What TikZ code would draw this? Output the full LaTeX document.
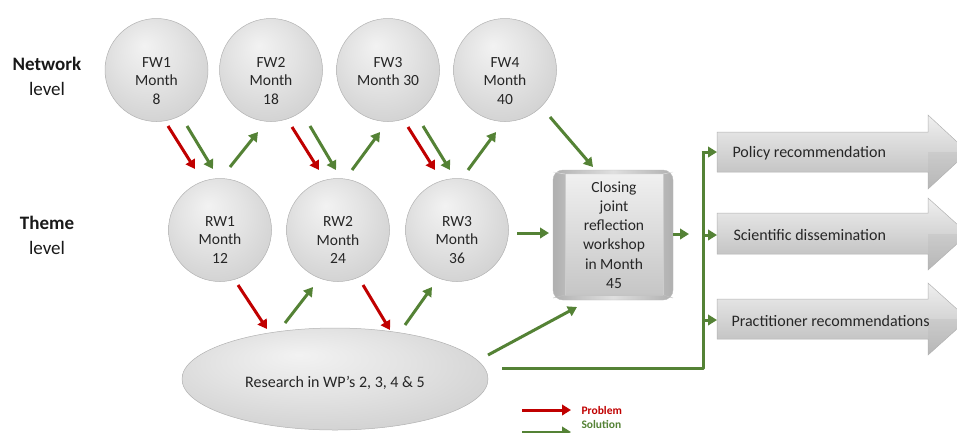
\documentclass[tikz,border=0pt]{standalone}
\usepackage{fontspec}
\setmainfont{Carlito}
\usetikzlibrary{arrows.meta,shapes.geometric}
\definecolor{gr}{RGB}{84,130,53}
\definecolor{rd}{RGB}{192,0,0}
\definecolor{txt}{RGB}{38,38,38}
\pgfdeclareradialshading{sphere}{\pgfpoint{-6bp}{12bp}}{color(0bp)=(gray!10);color(16bp)=(gray!22);color(34bp)=(gray!38);color(46bp)=(gray!55);color(50bp)=(gray!68)}
\tikzset{
  circ/.style={circle, draw=gray!60, line width=0.5pt, shading=sphere, minimum size=103pt, inner sep=0pt, align=center, text=txt, font=\fontsize{15.5}{18.5}\selectfont},
  garr/.style={draw=gr, line width=3pt, -{Triangle[length=9pt,width=10.5pt]}},
  rarr/.style={draw=rd, line width=3pt, -{Triangle[length=9pt,width=10.5pt]}},
  gline/.style={draw=gr, line width=3pt},
  lvl/.style={align=center, text=black!90, font=\fontsize{19}{25}\selectfont},
  outarrow/.style={top color=gray!12, bottom color=gray!55, draw=gray!60, line width=0.5pt},
  outtext/.style={anchor=west, text=txt, font=\fontsize{16}{19}\selectfont},
  legtext/.style={anchor=west, font=\bfseries\fontsize{11.5}{13}\selectfont}
}
\begin{document}
\begin{tikzpicture}[x=1pt,y=-1pt]
\useasboundingbox (0,0) rectangle (957,432);

% level labels
\node[lvl] (netlbl) at (47,76) {\textbf{Network}\\level};
\node[lvl] (themelbl) at (47,235) {\textbf{Theme}\\level};

% network level circles
\node[circ, text depth=0pt] (FW1) at (156.5,70) {};
\node[circ] (FW2) at (271,70) {};
\node[circ] (FW3) at (388,70) {};
\node[circ] (FW4) at (505,70) {};
\node[align=center, text=txt, font=\fontsize{15.5}{18.5}\selectfont] (FW1t) at (156.5,81) {FW1\\Month\\8};
\node[align=center, text=txt, font=\fontsize{15.5}{18.5}\selectfont] (FW2t) at (271,81) {FW2\\Month\\18};
\node[align=center, text=txt, font=\fontsize{15.5}{18.5}\selectfont] (FW3t) at (388,81) {FW3\\Month 30\\\phantom{0}};
\node[align=center, text=txt, font=\fontsize{15.5}{18.5}\selectfont] (FW4t) at (505,81) {FW4\\Month\\40};

% theme level circles
\node[circ] (RW1) at (220,230) {};
\node[circ] (RW2) at (338,230) {};
\node[circ] (RW3) at (457,230) {};
\node[align=center, text=txt, font=\fontsize{15.5}{18.5}\selectfont] (RW1t) at (220,240) {RW1\\Month\\12};
\node[align=center, text=txt, font=\fontsize{15.5}{18.5}\selectfont] (RW2t) at (338,240) {RW2\\Month\\24};
\node[align=center, text=txt, font=\fontsize{15.5}{18.5}\selectfont] (RW3t) at (457,240) {RW3\\Month\\36};

% research ellipse
\node[ellipse, draw=gray!60, line width=0.5pt, shading=sphere, minimum width=306pt, minimum height=102pt, inner sep=0pt] (res) at (335,379) {};
\node[text=txt, font=\fontsize{16}{19}\selectfont] (rest) at (335,383) {Research in WP's 2, 3, 4 \& 5};

% closing workshop box
\shade[left color=gray!62, right color=gray!62, middle color=gray!25, rounded corners=10pt, draw=gray!55, line width=0.4pt] (553,170) rectangle (673,300);
\shade[top color=gray!12, bottom color=gray!45] (565,174) rectangle (663,295);
\draw[white!75!gray, line width=0.5pt] (553,172) -- (565,174) -- (663,174) -- (673,172);
\draw[gray!50, line width=0.5pt] (553,298) -- (565,295) -- (663,295) -- (673,298);
\draw[gray!40, line width=0.4pt] (565,174) -- (565,295) (663,174) -- (663,295);
\node[align=center, text=txt, font=\fontsize{15.5}{19.2}\selectfont] (close) at (614,235) {Closing\\joint\\reflection\\workshop\\in Month\\45};

% output arrows
\shade[outarrow] (717,132) -- (928,132) -- (928,115) -- (968,152) -- (928,189) -- (928,172) -- (717,172) -- cycle;
\shade[outarrow] (717,213) -- (928,213) -- (928,198) -- (968,234) -- (928,270) -- (928,254) -- (717,254) -- cycle;
\shade[outarrow] (717,299) -- (928,299) -- (928,283) -- (968,319) -- (928,355) -- (928,339) -- (717,339) -- cycle;
\fill[gray!60, opacity=0.25] (928,152) -- (968,152) -- (928,189) -- cycle;
\fill[gray!60, opacity=0.25] (928,234) -- (968,234) -- (928,270) -- cycle;
\fill[gray!60, opacity=0.25] (928,319) -- (968,319) -- (928,355) -- cycle;
\node[outtext] (pol) at (729,153) {Policy recommendation};
\node[outtext] (sci) at (730,235) {Scientific dissemination};
\node[outtext] (pra) at (728,321) {Practitioner recommendations};

% connector end points
\coordinate (r1a) at (168,126); \coordinate (r1b) at (195,169);
\coordinate (g1a) at (187,126); \coordinate (g1b) at (213,169);
\coordinate (u1a) at (230,167); \coordinate (u1b) at (258,132);
\coordinate (r2a) at (292,127); \coordinate (r2b) at (319,170);
\coordinate (g2a) at (310,126); \coordinate (g2b) at (336,170);
\coordinate (u2a) at (352,170); \coordinate (u2b) at (380,132);
\coordinate (r3a) at (408,127); \coordinate (r3b) at (435,170);
\coordinate (g3a) at (423,126); \coordinate (g3b) at (450,170);
\coordinate (u3a) at (468,170); \coordinate (u3b) at (496,132);
\coordinate (f4a) at (550,117); \coordinate (f4b) at (593,167);
\coordinate (w3a) at (517,233); \coordinate (w3b) at (549,233);
\coordinate (e1a) at (238,285); \coordinate (e1b) at (267,329);
\coordinate (e2a) at (285,323); \coordinate (e2b) at (313,287);
\coordinate (e3a) at (363,285); \coordinate (e3b) at (390,330);
\coordinate (e4a) at (405,325); \coordinate (e4b) at (432,287);
\coordinate (ec1) at (488,355); \coordinate (ec2) at (577,307);
\coordinate (cl1) at (673,234); \coordinate (cl2) at (689,234);
\coordinate (hl) at (502,368); \coordinate (vb) at (703,368);
\coordinate (v1) at (703,152); \coordinate (v2) at (703,235); \coordinate (v3) at (703,320);

% network <-> theme arrows
\draw[rarr] (r1a) -- (r1b);
\draw[garr] (g1a) -- (g1b);
\draw[garr] (u1a) -- (u1b);
\draw[rarr] (r2a) -- (r2b);
\draw[garr] (g2a) -- (g2b);
\draw[garr] (u2a) -- (u2b);
\draw[rarr] (r3a) -- (r3b);
\draw[garr] (g3a) -- (g3b);
\draw[garr] (u3a) -- (u3b);
\draw[garr] (f4a) -- (f4b);
\draw[garr] (w3a) -- (w3b);

% theme <-> research arrows
\draw[rarr] (e1a) -- (e1b);
\draw[garr] (e2a) -- (e2b);
\draw[rarr] (e3a) -- (e3b);
\draw[garr] (e4a) -- (e4b);
\draw[garr] (ec1) -- (ec2);

% outputs
\draw[garr] (cl1) -- (cl2);
\draw[gline, line join=round] (hl) -- (vb) -- (v1);
\draw[garr] ([xshift=-1.5pt]v1) -- (717,152);
\draw[garr] (v2) -- (717,235);
\draw[garr] (v3) -- (717,320);

% legend
\coordinate (lp1) at (522,410); \coordinate (lp2) at (571,410);
\coordinate (ls1) at (522,432); \coordinate (ls2) at (571,432);
\draw[rarr] (lp1) -- (lp2);
\draw[garr] (ls1) -- (ls2);
\node[legtext, text=rd] (prob) at (578,410) {Problem};
\node[legtext, text=gr] (sol) at (578,424) {Solution};
\end{tikzpicture}
\end{document}
